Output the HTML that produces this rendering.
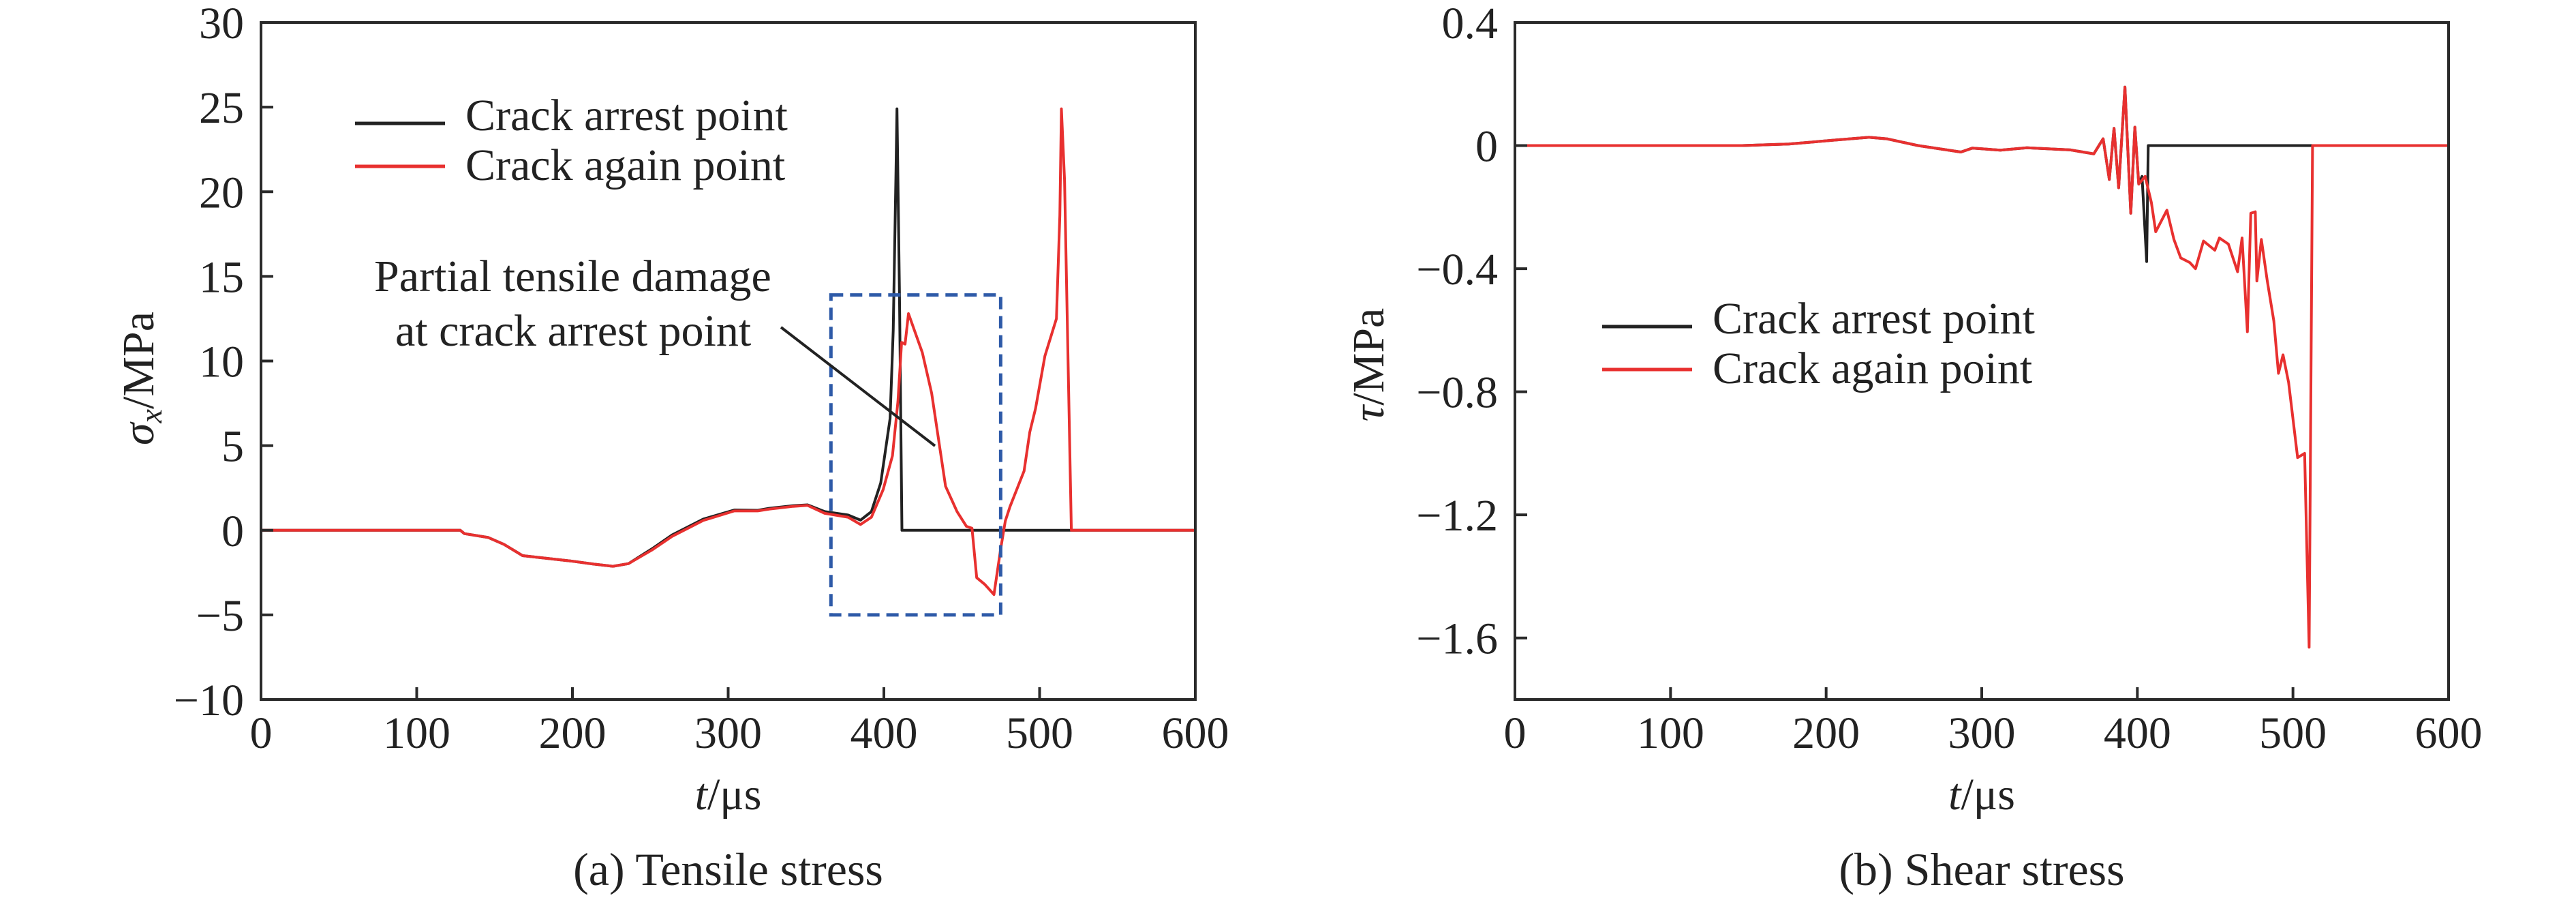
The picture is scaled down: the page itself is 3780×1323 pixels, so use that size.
<!DOCTYPE html>
<html><head><meta charset="utf-8"><style>
html,body{margin:0;padding:0;background:#fff;}
svg{display:block;font-family:"Liberation Serif",serif;}
</style></head><body>
<svg id="fig" width="3780" height="1323" viewBox="0 0 3780 1323" xmlns="http://www.w3.org/2000/svg">
<g id="plotA"></g>
<g id="plotB"></g>
</svg>
<script>
// ---- Chart (a) data: tensile stress ----
const aArrestT = [0,128,130.6,146,156,168,198.5,213.6,226,236,251,264,284,304,319,326.6,341.7,351,362,377,385,392,398,404,406,407.7,408.4,410,411.6,600];
const aArrestV = [0,0,-0.2,-0.43,-0.83,-1.5,-1.81,-2.0,-2.13,-1.97,-1.1,-0.28,0.66,1.2,1.18,1.3,1.45,1.5,1.1,0.9,0.6,1.1,2.8,6.6,11.8,20.8,24.9,14.2,0,0];
const aAgainT = [0,128,130.6,146,156,168,198.5,213.6,226,236,251,264,284,304,319,326.6,341.7,351,362,377,385,392,399.5,405.5,409,411.4,413.6,415.8,424.7,430.7,439.6,447,453,456.6,459.6,464.8,470.7,475,478,481,490,493.7,497.4,503.4,510.8,513,514,516,520.4,600];
const aAgainV = [0,0,-0.2,-0.43,-0.83,-1.5,-1.81,-2.0,-2.13,-1.97,-1.17,-0.36,0.58,1.14,1.14,1.25,1.41,1.47,1.0,0.77,0.34,0.77,2.4,4.4,7.6,11.1,11.0,12.8,10.5,8.1,2.6,1.1,0.23,0.12,-2.8,-3.2,-3.8,-1.1,0.55,1.4,3.5,5.8,7.2,10.3,12.5,18.6,24.9,20.7,0,0];
const aXTicks = [0,100,200,300,400,500,600];
const aYTicks = [30,25,20,15,10,5,0,-5,-10];
const aBox = [366,475,13.9,-5]; // t0,t1,v-top,v-bottom of highlighted region

// ---- Chart (b) data: shear stress ----
const bArrestT = [0,146,176,206,227.5,239,259,286.6,294,312,329,357,372,378,382,385,388,391.4,392,395.8,398.4,400.9,403,406,407,600];
const bArrestV = [0,0,0.005,0.018,0.027,0.022,0,-0.021,-0.008,-0.015,-0.007,-0.014,-0.027,0.022,-0.11,0.056,-0.137,0.14,0.19,-0.22,0.06,-0.125,-0.1,-0.377,0,0];
const bAgainT = [0,146,176,206,227.5,239,259,286.6,294,312,329,357,372,378,382,385,388,391.4,392,395.8,398.4,400.9,405,409,411.8,419,423.5,427.9,433.7,437.4,442.5,449.8,452.7,458.5,464.4,467.3,470.7,472.9,475.8,476.8,479.7,483.4,487.7,490.7,493.6,497.2,503,507.5,510.4,512.6,600];
const bAgainV = [0,0,0.005,0.018,0.027,0.022,0,-0.021,-0.008,-0.015,-0.007,-0.014,-0.027,0.022,-0.11,0.056,-0.137,0.14,0.19,-0.22,0.06,-0.125,-0.1,-0.185,-0.28,-0.21,-0.305,-0.365,-0.38,-0.4,-0.31,-0.34,-0.3,-0.32,-0.41,-0.3,-0.605,-0.22,-0.215,-0.44,-0.305,-0.437,-0.57,-0.74,-0.68,-0.77,-1.014,-1.0,-1.63,0,0];
const bXTicks = [0,100,200,300,400,500,600];
const bYTicks = [0.4,0,-0.4,-0.8,-1.2,-1.6];

const NS = "http://www.w3.org/2000/svg";
function mk(parent, tag, attrs, text){
  const e = document.createElementNS(NS, tag);
  for (const k in attrs) e.setAttribute(k, attrs[k]);
  if (text !== undefined) e.textContent = text;
  parent.appendChild(e);
  return e;
}
const AX = "#2a2a2a", RED = "#e8302f";
function fmt(v){ const s = String(Math.abs(v)); return v < 0 ? "\u2212" + s : s; }

function drawChart(g, cfg){
  const {x0,x1,y0,y1,vmin,vmax} = cfg;
  const sx = t => x0 + (t - 0) / 600 * (x1 - x0);
  const sy = v => y0 + (vmax - v) / (vmax - vmin) * (y1 - y0);
  // series
  const s1 = mk(g, "path", {d: cfg.arrT.map((t,i)=>(i?"L":"M")+sx(t).toFixed(1)+","+sy(cfg.arrV[i]).toFixed(1)).join(""), fill:"none", stroke:"#222", "stroke-width":4, "stroke-linejoin":"round"});
  
  
  const s2 = mk(g, "path", {d: cfg.agT.map((t,i)=>(i?"L":"M")+sx(t).toFixed(1)+","+sy(cfg.agV[i]).toFixed(1)).join(""), fill:"none", stroke:RED, "stroke-width":4, "stroke-linejoin":"round"});
  
  
  // frame
  const fr = mk(g, "rect", {x:x0, y:y0, width:x1-x0, height:y1-y0, fill:"none", stroke:AX, "stroke-width":4});
  
  
  // x ticks
  cfg.xt.forEach(t=>{
    const x = sx(t);
    const tk = mk(g, "line", {x1:x, y1:y1, x2:x, y2:y1-18, stroke:AX, "stroke-width":4});
    
    
    const lb = mk(g, "text", {x:x, y:1097, "font-size":66, "text-anchor":"middle", fill:"#222"}, fmt(t));
    
    
  });
  cfg.yt.forEach(v=>{
    const y = sy(v);
    const tk = mk(g, "line", {x1:x0, y1:y, x2:x0+18, y2:y, stroke:AX, "stroke-width":4});
    
    
    const lb = mk(g, "text", {x:x0-25, y:y+23, "font-size":66, "text-anchor":"end", fill:"#222"}, fmt(v));
    
    
  });
  // x title
  const xt = mk(g, "text", {x:(x0+x1)/2, y:1187, "font-size":66, "text-anchor":"middle", fill:"#222"});
  
  
  mk(xt, "tspan", {"font-style":"italic"}, "t");
  mk(xt, "tspan", {}, "/\u03bcs");
  // caption
  const cap = mk(g, "text", {x:(x0+x1)/2, y:1298, "font-size":68, "text-anchor":"middle", fill:"#222"}, cfg.caption);
  
  
  // legend
  [["Crack arrest point","#222",0],["Crack again point",RED,1]].forEach(([lab,col,i])=>{
    const ly = cfg.legY + i*63;
    const ln = mk(g, "line", {x1:cfg.legX, y1:ly, x2:cfg.legX+132, y2:ly, stroke:col, "stroke-width":5});
    
    
    const tx = mk(g, "text", {x:cfg.legX+162, y:ly+ (i?20:10), "font-size":66, fill:"#222"}, lab);
    
    
  });
  return {sx, sy};
}

const gA = document.getElementById("plotA");
const A = drawChart(gA, {x0:383,x1:1754,y0:33,y1:1026,vmin:-10,vmax:30,arrT:aArrestT,arrV:aArrestV,agT:aAgainT,agV:aAgainV,xt:aXTicks,yt:aYTicks,caption:"(a) Tensile stress",legX:521,legY:181});
// y title A
const ytA = mk(gA, "text", {x:0, y:0, "font-size":66, "text-anchor":"middle", fill:"#222", transform:"translate(225,555) rotate(-90)"});


mk(ytA, "tspan", {"font-style":"italic"}, "\u03c3");
mk(ytA, "tspan", {"font-style":"italic", "font-size":46, dy:12}, "x");
mk(ytA, "tspan", {dy:-12}, "/MPa");
// highlight box
const box = mk(gA, "rect", {x:A.sx(aBox[0]), y:A.sy(aBox[2]), width:A.sx(aBox[1])-A.sx(aBox[0]), height:A.sy(aBox[3])-A.sy(aBox[2]), fill:"none", stroke:"#2e5aa8", "stroke-width":5, "stroke-dasharray":"18 10"});


const ann1 = mk(gA, "text", {x:549, y:427, "font-size":66, fill:"#222"}, "Partial tensile damage");


const ann2 = mk(gA, "text", {x:580, y:507, "font-size":66, fill:"#222"}, "at crack arrest point");


const ptr = mk(gA, "line", {x1:1146, y1:480, x2:1372, y2:654, stroke:"#222", "stroke-width":4});



const gB = document.getElementById("plotB");
drawChart(gB, {x0:2223,x1:3593,y0:33,y1:1026,vmin:-1.8,vmax:0.4,arrT:bArrestT,arrV:bArrestV,agT:bAgainT,agV:bAgainV,xt:bXTicks,yt:bYTicks,caption:"(b) Shear stress",legX:2351,legY:479});
const ytB = mk(gB, "text", {x:0, y:0, "font-size":66, "text-anchor":"middle", fill:"#222", transform:"translate(2030,535) rotate(-90)"});


mk(ytB, "tspan", {"font-style":"italic"}, "\u03c4");
mk(ytB, "tspan", {}, "/MPa");
</script>
</body></html>
